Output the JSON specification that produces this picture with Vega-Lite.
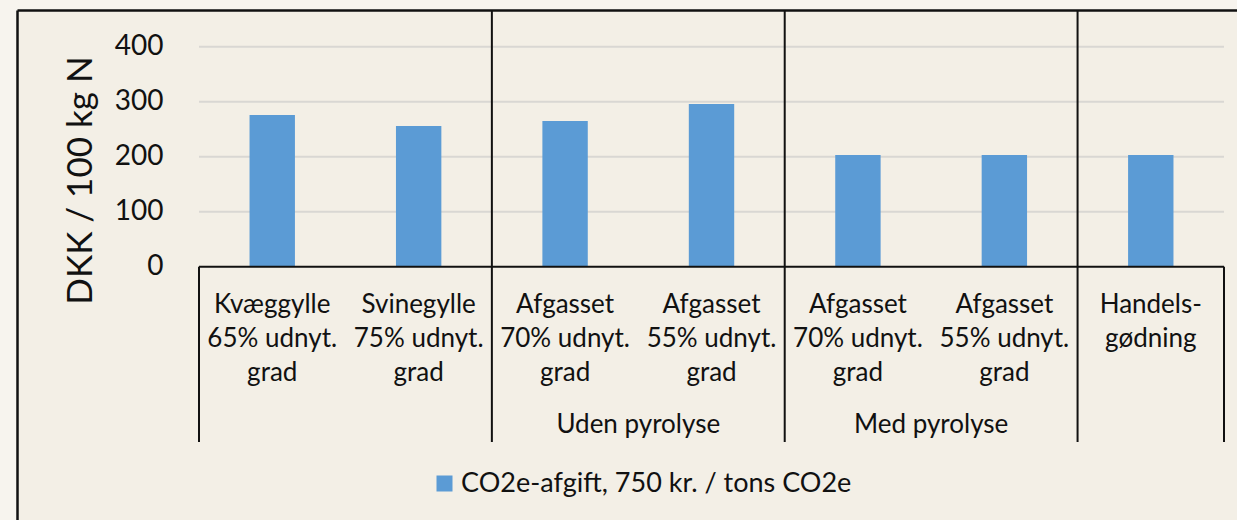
{
  "$schema": "https://vega.github.io/schema/vega-lite/v6.json",
  "width": 1220,
  "height": 510,
  "autosize": {"type": "none"},
  "padding": {"left": 17, "top": 10, "right": 0, "bottom": 0},
  "background": "#f7f4ee",
  "config": {
    "font": "Lato",
    "view": {"fill": "#f3efe6", "stroke": null},
    "axisX": {"labels": false, "ticks": false, "tickSize": 0, "title": null, "domain": true, "domainColor": "#111111", "domainWidth": 2.5, "grid": false},
    "axisY": {
      "grid": false,
      "ticks": false,
      "tickSize": 0,
      "domain": true,
      "domainColor": "#111111",
      "domainWidth": 2.5,
      "labelPadding": -146,
      "labelAlign": "right",
      "labelBaseline": "middle",
      "labelFontSize": 28,
      "labelColor": "#111111",
      "labelFont": "Lato",
      "titleFont": "Lato",
      "titleFontSize": 35,
      "titleFontWeight": "normal",
      "titleColor": "#111111",
      "titleAngle": -90,
      "titleAlign": "center",
      "titleBaseline": "alphabetic",
      "titleX": 74,
      "titleY": 170
    }
  },
  "datasets": {
    "bars": [
      {"kategori": "Kvæggylle 65%", "label": "Kvæggylle|65% udnyt.|grad", "serie": "CO2e-afgift, 750 kr. / tons CO2e", "dkk": 276},
      {"kategori": "Svinegylle 75%", "label": "Svinegylle|75% udnyt.|grad", "serie": "CO2e-afgift, 750 kr. / tons CO2e", "dkk": 256},
      {"kategori": "Afgasset 70% uden pyrolyse", "label": "Afgasset|70% udnyt.|grad", "serie": "CO2e-afgift, 750 kr. / tons CO2e", "dkk": 265},
      {"kategori": "Afgasset 55% uden pyrolyse", "label": "Afgasset|55% udnyt.|grad", "serie": "CO2e-afgift, 750 kr. / tons CO2e", "dkk": 296},
      {"kategori": "Afgasset 70% med pyrolyse", "label": "Afgasset|70% udnyt.|grad", "serie": "CO2e-afgift, 750 kr. / tons CO2e", "dkk": 203},
      {"kategori": "Afgasset 55% med pyrolyse", "label": "Afgasset|55% udnyt.|grad", "serie": "CO2e-afgift, 750 kr. / tons CO2e", "dkk": 203},
      {"kategori": "Handelsgødning", "label": "Handels-|gødning", "serie": "CO2e-afgift, 750 kr. / tons CO2e", "dkk": 203}
    ]
  },
  "layer": [
    {
      "data": {"values": [{"v": 100}, {"v": 200}, {"v": 300}, {"v": 400}]},
      "mark": {"type": "rule", "color": "#d9d7d3", "strokeWidth": 2},
      "encoding": {
        "x": {
          "datum": "Kvæggylle 65%",
          "type": "nominal",
          "bandPosition": 0,
          "scale": {
            "domain": ["Kvæggylle 65%", "Svinegylle 75%", "Afgasset 70% uden pyrolyse", "Afgasset 55% uden pyrolyse", "Afgasset 70% med pyrolyse", "Afgasset 55% med pyrolyse", "Handelsgødning"],
            "paddingInner": 0,
            "paddingOuter": 0.666,
            "align": 0.9333
          },
          "axis": {"orient": "top"}
        },
        "x2": {"datum": "Handelsgødning", "bandPosition": 1},
        "y": {
          "field": "v",
          "type": "quantitative",
          "scale": {"domain": [-460.5, 466.7], "nice": false, "zero": false},
          "axis": {"orient": "left", "title": "DKK / 100 kg N", "values": [0, 100, 200, 300, 400]}
        }
      }
    },
    {
      "data": {"name": "bars"},
      "mark": {"type": "bar", "width": {"band": 0.31}},
      "encoding": {
        "x": {"field": "kategori", "type": "nominal", "axis": {"orient": "top"}},
        "y": {"field": "dkk", "type": "quantitative", "axis": {"orient": "left", "title": "DKK / 100 kg N", "values": [0, 100, 200, 300, 400]}},
        "color": {
          "field": "serie",
          "type": "nominal",
          "scale": {"range": ["#5b9bd5"]},
          "legend": {
            "orient": "none",
            "legendX": 414,
            "legendY": 460,
            "title": null,
            "padding": 0,
            "symbolType": "square",
            "symbolSize": 256,
            "symbolStrokeWidth": 0,
            "labelFontSize": 27,
            "labelFont": "Lato",
            "labelColor": "#111111",
            "labelOffset": 3,
            "labelLimit": 800
          }
        }
      }
    },
    {
      "data": {"name": "bars"},
      "mark": {"type": "text", "lineBreak": "|", "fontSize": 26, "lineHeight": 34, "baseline": "alphabetic", "align": "center", "color": "#111111"},
      "encoding": {
        "x": {"field": "kategori", "type": "nominal", "axis": {"orient": "top"}},
        "y": {"datum": -84.2, "type": "quantitative", "axis": {"orient": "left", "title": "DKK / 100 kg N", "values": [0, 100, 200, 300, 400]}},
        "text": {"field": "label"}
      }
    },
    {
      "data": {"values": [{"v": 0}]},
      "mark": {"type": "rule", "color": "#111111", "strokeWidth": 2},
      "encoding": {
        "x": {"datum": "Kvæggylle 65%", "type": "nominal", "bandPosition": 0, "axis": {"orient": "top"}},
        "x2": {"datum": "Handelsgødning", "bandPosition": 1},
        "y": {"field": "v", "type": "quantitative", "axis": {"orient": "left", "title": "DKK / 100 kg N", "values": [0, 100, 200, 300, 400]}}
      }
    },
    {
      "data": {"values": [{"start": "Afgasset 70% uden pyrolyse"}, {"start": "Afgasset 70% med pyrolyse"}, {"start": "Handelsgødning"}]},
      "mark": {"type": "rule", "color": "#111111", "strokeWidth": 2},
      "encoding": {
        "x": {"field": "start", "type": "nominal", "bandPosition": 0, "axis": {"orient": "top"}},
        "y": {"datum": 466.7, "type": "quantitative", "axis": {"orient": "left", "title": "DKK / 100 kg N", "values": [0, 100, 200, 300, 400]}},
        "y2": {"datum": -318.7}
      }
    },
    {
      "data": {"values": [{"edge": "Kvæggylle 65%"}]},
      "mark": {"type": "rule", "color": "#111111", "strokeWidth": 2},
      "encoding": {
        "x": {"field": "edge", "type": "nominal", "bandPosition": 0, "axis": {"orient": "top"}},
        "y": {"datum": 0, "type": "quantitative", "axis": {"orient": "left", "title": "DKK / 100 kg N", "values": [0, 100, 200, 300, 400]}},
        "y2": {"datum": -318.7}
      }
    },
    {
      "data": {"values": [{"edge": "Handelsgødning"}]},
      "mark": {"type": "rule", "color": "#111111", "strokeWidth": 2},
      "encoding": {
        "x": {"field": "edge", "type": "nominal", "bandPosition": 1, "axis": {"orient": "top"}},
        "y": {"datum": 0, "type": "quantitative", "axis": {"orient": "left", "title": "DKK / 100 kg N", "values": [0, 100, 200, 300, 400]}},
        "y2": {"datum": -318.7}
      }
    },
    {
      "data": {"values": [{"gruppe": "Uden pyrolyse", "first": "Afgasset 70% uden pyrolyse"}, {"gruppe": "Med pyrolyse", "first": "Afgasset 70% med pyrolyse"}]},
      "mark": {"type": "text", "fontSize": 26, "baseline": "alphabetic", "align": "center", "color": "#111111"},
      "encoding": {
        "x": {"field": "first", "type": "nominal", "bandPosition": 1, "axis": {"orient": "top"}},
        "y": {"datum": -302.4, "type": "quantitative", "axis": {"orient": "left", "title": "DKK / 100 kg N", "values": [0, 100, 200, 300, 400]}},
        "text": {"field": "gruppe"}
      }
    }
  ]
}
